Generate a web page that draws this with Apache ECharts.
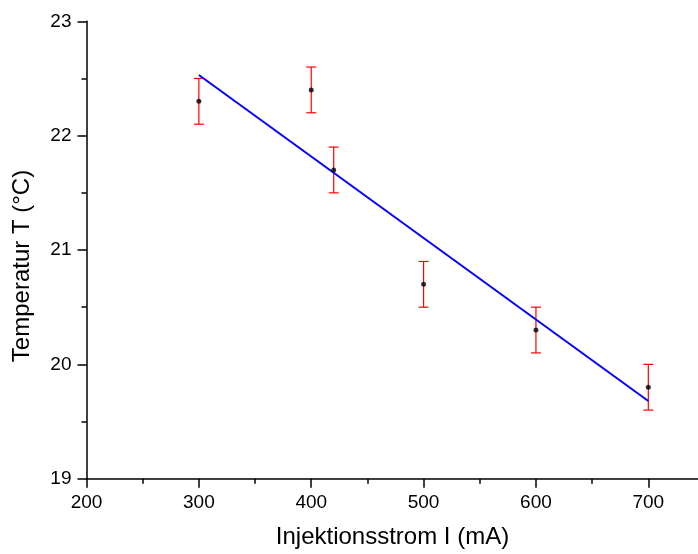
<!DOCTYPE html>
<html><head><meta charset="utf-8">
<script src="https://cdn.jsdelivr.net/npm/echarts@6/dist/echarts.min.js"></script>
<style>html,body{margin:0;padding:0;background:#fff}#c{width:698px;height:554px}</style>
</head><body><div id="c"></div>
<script>
const currents = [300, 400, 420, 500, 600, 700];
const temps = [22.3, 22.4, 21.7, 20.7, 20.3, 19.8];
const errs = [0.2, 0.2, 0.2, 0.2, 0.2, 0.2];
const fitX = [300, 700];
const fitY = [22.53, 19.68];

const chart = echarts.init(document.getElementById('c'), null, {renderer: 'canvas'});
const font = 'Liberation Sans, Arial, sans-serif';
const pts = currents.map((x, i) => [x, temps[i], errs[i]]);
chart.setOption({
  animation: false,
  backgroundColor: '#fff',
  grid: {left: 86.5, width: 618, top: 21.3, bottom: 75.3, containLabel: false, outerBoundsMode: 'none'},
  xAxis: {
    type: 'value', min: 200, max: 750, interval: 100,
    name: 'Injektionsstrom I (mA)', nameLocation: 'middle', nameGap: 47,
    nameTextStyle: {fontFamily: font, fontSize: 24, color: '#000', padding: [0, 6, 0, 0]},
    axisLine: {lineStyle: {color: '#000', width: 1.5}},
    axisTick: {inside: false, length: 9, lineStyle: {color: '#000', width: 1.5}},
    minorTick: {show: true, splitNumber: 2, length: 5, lineStyle: {color: '#000', width: 1.5}},
    axisLabel: {fontFamily: font, fontSize: 19, color: '#000', margin: 15, showMaxLabel: false},
    splitLine: {show: false}
  },
  yAxis: {
    type: 'value', min: 19, max: 23, interval: 1,
    name: 'Temperatur T (°C)', nameLocation: 'middle', nameGap: 52,
    nameTextStyle: {fontFamily: font, fontSize: 24, color: '#000', padding: [0, 32, 0, 0]},
    axisLine: {show: true, lineStyle: {color: '#000', width: 1.5}},
    axisTick: {show: true, inside: false, length: 9, lineStyle: {color: '#000', width: 1.5}},
    minorTick: {show: true, splitNumber: 2, length: 5, lineStyle: {color: '#000', width: 1.5}},
    axisLabel: {fontFamily: font, fontSize: 19, color: '#000', margin: 15},
    splitLine: {show: false}
  },
  series: [
    {
      type: 'custom',
      data: pts,
      z: 2,
      renderItem: function (params, api) {
        const x = api.value(0), y = api.value(1), e = api.value(2);
        const top = api.coord([x, y + e]);
        const bot = api.coord([x, y - e]);
        const hw = 5;
        const st = {stroke: '#ff0000', lineWidth: 1.2};
        return {type: 'group', children: [
          {type: 'line', shape: {x1: top[0], y1: top[1], x2: bot[0], y2: bot[1]}, style: st},
          {type: 'line', shape: {x1: top[0] - hw, y1: top[1], x2: top[0] + hw, y2: top[1]}, style: st},
          {type: 'line', shape: {x1: bot[0] - hw, y1: bot[1], x2: bot[0] + hw, y2: bot[1]}, style: st}
        ]};
      }
    },
    {
      type: 'line',
      data: fitX.map((x, i) => [x, fitY[i]]),
      showSymbol: false, symbol: 'none',
      lineStyle: {color: '#0000ff', width: 2},
      z: 3
    },
    {
      type: 'scatter',
      data: currents.map((x, i) => [x, temps[i]]),
      symbol: 'circle', symbolSize: 5,
      itemStyle: {color: '#000'},
      z: 4
    }
  ]
});
</script></body></html>
